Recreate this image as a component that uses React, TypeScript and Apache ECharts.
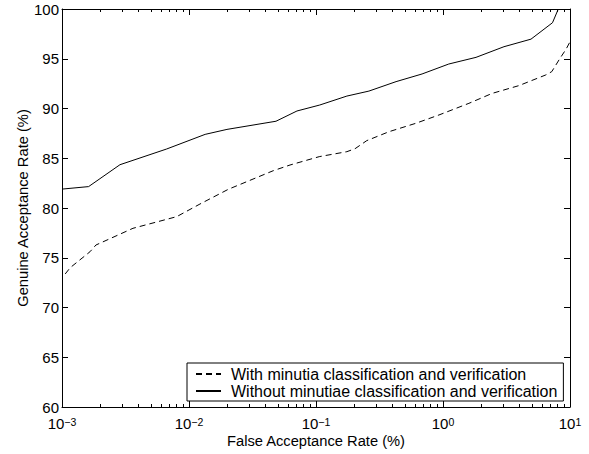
import React, { useEffect, useRef } from "react";
import * as echarts from "echarts";

// False acceptance rate (%) and genuine acceptance rate (%) — with minutia classification
const farWith = [0.00106, 0.00116, 0.00166, 0.00185, 0.00362, 0.008, 0.0122, 0.0204, 0.0461, 0.0624, 0.106, 0.175, 0.203, 0.251, 0.376, 0.61, 0.93, 1.6, 2.44, 3.96, 6.44, 7.18, 8.34, 9.3, 10];
const garWith = [73.37, 74.0, 75.6, 76.28, 77.96, 79.13, 80.4, 81.88, 83.75, 84.32, 85.16, 85.66, 85.96, 86.77, 87.67, 88.51, 89.35, 90.52, 91.52, 92.3, 93.37, 93.7, 95.04, 95.95, 96.7];

// without minutiae classification
const farWithout = [0.001, 0.00162, 0.00286, 0.00667, 0.0134, 0.0199, 0.0484, 0.0708, 0.107, 0.175, 0.261, 0.427, 0.684, 1.11, 1.82, 3.02, 4.93, 7.28, 8.09];
const garWithout = [81.9, 82.15, 84.35, 85.93, 87.4, 87.9, 88.72, 89.75, 90.35, 91.25, 91.75, 92.7, 93.47, 94.47, 95.14, 96.21, 96.97, 98.62, 100];

const xMajorTicks = [0.001, 0.01, 0.1, 1, 10];
const xMinorTicks = [
  0.002, 0.003, 0.004, 0.005, 0.006, 0.007, 0.008, 0.009,
  0.02, 0.03, 0.04, 0.05, 0.06, 0.07, 0.08, 0.09,
  0.2, 0.3, 0.4, 0.5, 0.6, 0.7, 0.8, 0.9,
  2, 3, 4, 5, 6, 7, 8, 9,
];
const yMin = 60;
const yMax = 100;
const yStep = 5;

const seriesNames = [
  "With minutia classification and verification",
  "Without minutiae classification and verification",
];

const FONT = '"Liberation Sans", Arial, Helvetica, sans-serif';

export default function App() {
  const ref = useRef<HTMLDivElement>(null);
  useEffect(() => {
    if (!ref.current) return;
    const chart = echarts.init(ref.current, undefined, { renderer: "svg" });
    const sup = (v: number) => {
      const e = Math.round(Math.log10(v));
      const s = e < 0 ? "\u2212" + Math.abs(e) : String(e);
      return "{b|10}{s|" + s + "}";
    };
    const logBase = {
      type: "log" as const,
      logBase: 10,
      min: 0.001,
      max: 10,
      gridIndex: 0,
      splitLine: { show: false },
    };
    const option: any = {
      animation: false,
      backgroundColor: "#fff",
      textStyle: { fontFamily: FONT, color: "#000" },
      grid: { left: 62, right: 19, top: 9, bottom: 47, containLabel: false, outerBoundsMode: "none" },
      legend: {
        orient: "vertical",
        left: 187,
        top: 363,
        backgroundColor: "#fff",
        borderColor: "#000",
        borderWidth: 1,
        borderRadius: 0,
        padding: [3, 6, 2, 8],
        itemWidth: 25,
        itemHeight: 14,
        itemGap: 1,
        itemStyle: { opacity: 0 },
        textStyle: { fontFamily: FONT, fontSize: 16, lineHeight: 16, color: "#000", padding: [0, 0, 0, 5] },
        data: seriesNames,
      },
      xAxis: [
        {
          ...logBase,
          position: "bottom",
          name: "False Acceptance Rate (%)",
          nameLocation: "middle",
          nameGap: 26,
          nameMoveOverlap: false,
          nameTextStyle: { fontFamily: FONT, fontSize: 14.7, color: "#000" },
          axisLine: { show: true, onZero: false, lineStyle: { color: "#000", width: 1 } },
          axisTick: { show: true, inside: true, length: 6, lineStyle: { color: "#000" }, customValues: xMajorTicks },
          axisLabel: {
            show: true,
            margin: 9,
            customValues: xMajorTicks,
            formatter: (v: number) => sup(v),
            rich: {
              b: { fontFamily: FONT, fontSize: 15, color: "#000", verticalAlign: "bottom", lineHeight: 15 },
              s: { fontFamily: FONT, fontSize: 10.5, color: "#000", verticalAlign: "top", lineHeight: 10, padding: [0, 0, 9, 0] },
            },
          },
        },
        {
          ...logBase,
          position: "bottom",
          axisLine: { show: false, onZero: false },
          axisTick: { show: true, inside: true, length: 3, lineStyle: { color: "#000" }, customValues: xMinorTicks },
          axisLabel: { show: false },
        },
        {
          ...logBase,
          position: "top",
          axisLine: { show: true, onZero: false, lineStyle: { color: "#000", width: 1 } },
          axisTick: { show: true, inside: true, length: 6, lineStyle: { color: "#000" }, customValues: xMajorTicks },
          axisLabel: { show: false },
        },
        {
          ...logBase,
          position: "top",
          axisLine: { show: false, onZero: false },
          axisTick: { show: true, inside: true, length: 3, lineStyle: { color: "#000" }, customValues: xMinorTicks },
          axisLabel: { show: false },
        },
      ],
      yAxis: [
        {
          type: "value",
          position: "left",
          min: yMin,
          max: yMax,
          interval: yStep,
          name: "Genuine Acceptance Rate (%)",
          nameLocation: "middle",
          nameGap: 32,
          nameMoveOverlap: false,
          nameTextStyle: { fontFamily: FONT, fontSize: 14.7, color: "#000" },
          axisLine: { show: true, onZero: false, lineStyle: { color: "#000", width: 1 } },
          axisTick: { show: true, inside: true, length: 6, lineStyle: { color: "#000" } },
          axisLabel: { show: true, margin: 3, fontFamily: FONT, fontSize: 15, color: "#000" },
          splitLine: { show: false },
        },
        {
          type: "value",
          position: "right",
          min: yMin,
          max: yMax,
          interval: yStep,
          axisLine: { show: true, onZero: false, lineStyle: { color: "#000", width: 1 } },
          axisTick: { show: true, inside: true, length: 6, lineStyle: { color: "#000" } },
          axisLabel: { show: false },
          splitLine: { show: false },
        },
      ],
      series: [
        {
          name: seriesNames[0],
          type: "line",
          xAxisIndex: 0,
          yAxisIndex: 0,
          symbol: "none",
          clip: true,
          lineStyle: { color: "#000", width: 1, type: [6, 4] },
          itemStyle: { color: "#000" },
          data: farWith.map((x, i) => [x, garWith[i]]),
        },
        {
          name: seriesNames[1],
          type: "line",
          xAxisIndex: 0,
          yAxisIndex: 0,
          symbol: "none",
          clip: true,
          lineStyle: { color: "#000", width: 1, type: "solid" },
          itemStyle: { color: "#000" },
          data: farWithout.map((x, i) => [x, garWithout[i]]),
        },
      ],
    };
    chart.setOption(option);
    return () => chart.dispose();
  }, []);
  return (
    <div
      ref={ref}
      style={{ position: "fixed", left: 0, top: 0, width: 589, height: 454, background: "#fff" }}
    />
  );
}
